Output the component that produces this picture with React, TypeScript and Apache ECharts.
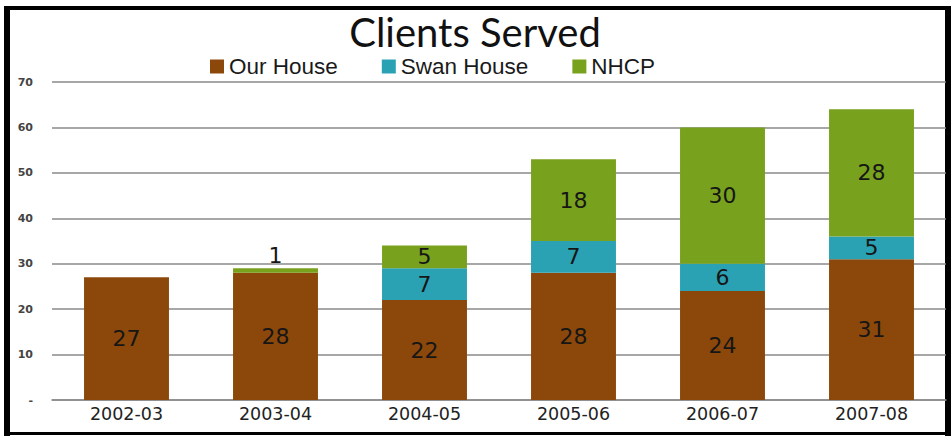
import React, { useEffect, useRef } from "react";
import * as echarts from "echarts";

const categories = ["2002-03", "2003-04", "2004-05", "2005-06", "2006-07", "2007-08"];
const ourHouse = [27, 28, 22, 28, 24, 31];
const swanHouse = [null, null, 7, 7, 6, 5];
const nhcp = [null, 1, 5, 18, 30, 28];
const yTicks = { min: 0, max: 70, interval: 10 };

const labelFont = { fontFamily: "DejaVu Sans", fontSize: 22, color: "#161616" };

export default function App() {
  const ref = useRef<HTMLDivElement>(null);
  useEffect(() => {
    const chart = echarts.init(ref.current!, null, { renderer: "svg" });
    const mkLabel = (show = true) => ({ show, position: "inside", ...labelFont });
    chart.setOption({
      animation: false,
      backgroundColor: "#ffffff",
      title: {
        text: "Clients Served",
        left: 470,
        textAlign: "center",
        top: 7,
        textStyle: { fontFamily: "Lato", fontSize: 40, fontWeight: "normal", color: "#111" },
      },
      legend: {
        left: 205,
        top: 50,
        itemWidth: 14,
        itemHeight: 14,
        itemGap: 44,
        icon: "rect",
        textStyle: { fontFamily: "Liberation Sans", fontSize: 22.5, color: "#1a1a1a", padding: [0, 0, 0, 0] },
        data: ["Our House", "Swan House", "NHCP"],
      },
      grid: { left: 52, right: 5, top: 82, bottom: 36 },
      xAxis: {
        type: "category",
        data: categories,
        axisLine: { show: true, lineStyle: { color: "#8a8a8a", width: 1.5 } },
        axisTick: { show: false },
        axisLabel: { fontFamily: "DejaVu Sans", fontSize: 17.5, color: "#222", margin: 5 },
      },
      yAxis: {
        type: "value",
        min: yTicks.min,
        max: yTicks.max,
        interval: yTicks.interval,
        axisLine: { show: false },
        axisTick: { show: false },
        splitLine: { lineStyle: { color: "#8a8a8a", width: 1.5 } },
        axisLabel: {
          fontFamily: "DejaVu Sans",
          fontSize: 11,
          fontWeight: "bold",
          color: "#444",
          margin: 19,
          formatter: (v: number) => (v === 0 ? "-" : String(v)),
        },
      },
      series: [
        {
          name: "Our House",
          type: "bar",
          stack: "total",
          barWidth: "57%",
          itemStyle: { color: "#8C480A" },
          label: mkLabel(),
          data: ourHouse,
        },
        {
          name: "Swan House",
          type: "bar",
          stack: "total",
          itemStyle: { color: "#2AA2B4" },
          label: mkLabel(),
          data: swanHouse,
        },
        {
          name: "NHCP",
          type: "bar",
          stack: "total",
          itemStyle: { color: "#78A21E" },
          label: mkLabel(),
          data: nhcp.map((v) =>
            v !== null && v < 3
              ? { value: v, label: { show: true, position: "top", distance: 2, ...labelFont } }
              : v
          ),
        },
      ],
      graphic: [
        { type: "rect", shape: { x: 4, y: 6, width: 6, height: 430 }, style: { fill: "#000" } },
        { type: "rect", shape: { x: 4, y: 6, width: 947, height: 4 }, style: { fill: "#000" } },
        { type: "rect", shape: { x: 945, y: 6, width: 6, height: 430 }, style: { fill: "#000" } },
        { type: "rect", shape: { x: 4, y: 432, width: 947, height: 3 }, style: { fill: "#000" } },
      ],
    });
    return () => chart.dispose();
  }, []);
  return (
    <div
      ref={ref}
      style={{ position: "fixed", left: 0, top: 0, width: 951, height: 436 }}
    />
  );
}
